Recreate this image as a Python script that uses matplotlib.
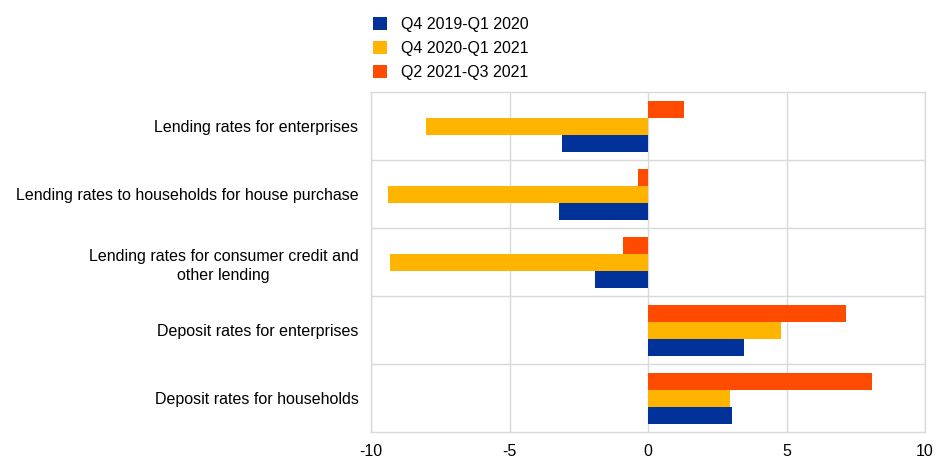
import matplotlib
matplotlib.use("Agg")
import matplotlib.pyplot as plt
import numpy as np

plt.rcParams['font.family'] = ['Liberation Sans', 'DejaVu Sans']

categories = [
    "Lending rates for enterprises",
    "Lending rates to households for house purchase",
    "Lending rates for consumer credit and\nother lending",
    "Deposit rates for enterprises",
    "Deposit rates for households",
]
series_names = ["Q4 2019-Q1 2020", "Q4 2020-Q1 2021", "Q2 2021-Q3 2021"]
q4_2019 = [-3.1, -3.2, -1.9, 3.45, 3.05]
q4_2020 = [-8.0, -9.4, -9.3, 4.8, 2.95]
q2_2021 = [1.3, -0.35, -0.9, 7.15, 8.1]
xticks = [-10, -5, 0, 5, 10]

colors = ["#003299", "#FFB400", "#FF4B00"]

fig = plt.figure(figsize=(9.36, 4.58), dpi=100)
ax = fig.add_axes([371/936, 1-432/458, (925-371)/936, (432-92)/458])

y = np.arange(len(categories))
h = 0.25
offsets = [h, 0, -h]
for vals, off, c, name in zip([q4_2019, q4_2020, q2_2021], offsets, colors, series_names):
    ax.barh(y + off, vals, height=h, color=c, label=name, zorder=3)

ax.set_ylim(len(categories) - 0.5, -0.5)
ax.set_xlim(-10, 10)
ax.set_xticks(xticks)
ax.set_xticklabels([str(t) for t in xticks], fontsize=11.5)
ax.set_yticks(y)
ax.set_yticklabels(categories, fontsize=11.5, linespacing=1.35)
for lbl in ax.get_yticklabels():
    lbl.set_multialignment('center')
ax.tick_params(axis='y', length=0, pad=9)
ax.tick_params(axis='x', length=0, pad=9)

gc = "#d9d9d9"
ax.grid(axis='x', color=gc, linewidth=1, zorder=0)
for b in np.arange(0.5, len(categories) - 0.5, 1):
    ax.axhline(b, color=gc, linewidth=1, zorder=0)
for s in ax.spines.values():
    s.set_color(gc)
    s.set_linewidth(1)

handles, labels = ax.get_legend_handles_labels()
fig.legend(handles, labels, loc='upper left', bbox_to_anchor=(367/936, 1-11/458),
           frameon=False, fontsize=11.5, handlelength=0.85, handleheight=0.85,
           handletextpad=0.85, labelspacing=0.55, borderaxespad=0)

fig.savefig("out.png", dpi=100)
